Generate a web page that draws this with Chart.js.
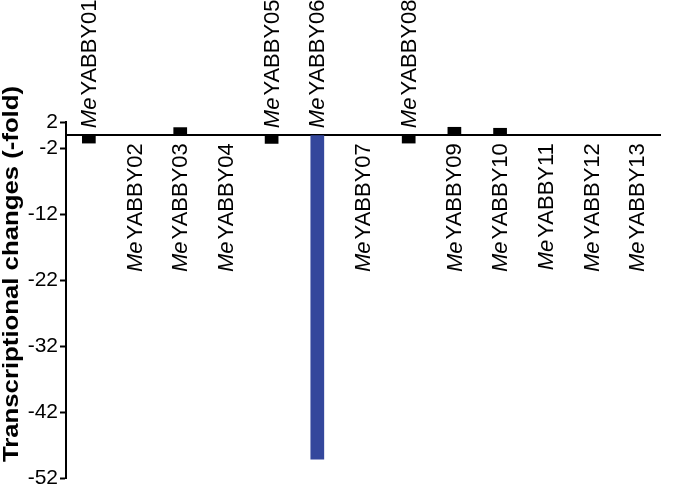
<!DOCTYPE html>
<html>
<head>
<meta charset="utf-8">
<script src="https://cdn.jsdelivr.net/npm/chart.js@4.4.1/dist/chart.umd.min.js"></script>
<style>
  html, body { margin: 0; padding: 0; background: #fff; }
  #wrap { width: 680px; height: 499px; }
</style>
</head>
<body>
<div id="wrap"><canvas id="yabbyChart"></canvas></div>
<script>
const CATEGORIES = ['MeYABBY01','MeYABBY02','MeYABBY03','MeYABBY04','MeYABBY05','MeYABBY06','MeYABBY07',
                    'MeYABBY08','MeYABBY09','MeYABBY10','MeYABBY11','MeYABBY12','MeYABBY13'];
const VALUES = [-1.25, 0, 1.2, 0, -1.3, -49.2, 0, -1.25, 1.25, 1.1, 0, 0, 0];
const BAR_COLORS = ['#000','#000','#000','#000','#000','#34479c','#000','#000','#000','#000','#000','#000','#000'];
const Y_TICKS = [2, -2, -12, -22, -32, -42, -52];
const Y_TITLE = 'Transcriptional changes (-fold)';

document.addEventListener('DOMContentLoaded', () => {

  const FONT = 'Arial, "Liberation Sans", sans-serif';
  const ITALIC = 'italic 22px ' + FONT;
  const NORMAL = '22px ' + FONT;

  Chart.defaults.font.family = FONT;
  Chart.defaults.font.size = 21;
  Chart.defaults.color = '#000';

  // gene names: "Me" in italics, rotated, above the axis for negative bars, below otherwise
  const geneLabels = {
    id: 'geneLabels',
    afterDraw(chart){
      const {ctx, scales: {x, y}} = chart;
      const zero = y.getPixelForValue(0);
      ctx.save();
      ctx.fillStyle = '#000';
      ctx.textBaseline = 'middle';
      ctx.textAlign = 'left';
      CATEGORIES.forEach((name,i) => {
        const prefix = name.slice(0,2), rest = name.slice(2);
        ctx.font = ITALIC; const w1 = ctx.measureText(prefix).width + 2;
        ctx.font = NORMAL; const w2 = ctx.measureText(rest).width;
        const px = x.getPixelForValue(i) + 1;
        ctx.save();
        if(VALUES[i] < 0) ctx.translate(px, zero - 7);
        else ctx.translate(px, zero + 8 + w1 + w2);
        ctx.rotate(-Math.PI/2);
        ctx.font = ITALIC; ctx.fillText(prefix, 0, 0);
        ctx.font = NORMAL; ctx.fillText(rest, w1, 0);
        ctx.restore();
      });

      // y axis title, stretched along its length like the original
      ctx.save();
      ctx.translate(12, 274);
      ctx.rotate(-Math.PI/2);
      ctx.scale(1.17, 1);
      ctx.textAlign = 'center';
      ctx.font = 'bold 22px ' + FONT;
      ctx.fillText(Y_TITLE, 0, 0);
      ctx.restore();
      ctx.restore();
    }
  };

  const ctx = document.getElementById('yabbyChart').getContext('2d');

  new Chart(ctx, {
    type: 'bar',
    data: {
      labels: CATEGORIES,
      datasets: [{
        data: VALUES,
        backgroundColor: BAR_COLORS,
        borderWidth: 0,
        barPercentage: 0.3,
        categoryPercentage: 1
      }]
    },
    options: {
      responsive: true,
      maintainAspectRatio: false,
      animation: false,
      layout: { padding: { left: 26, right: 20, top: 122, bottom: 21 } },
      plugins: { legend: { display: false }, tooltip: { enabled: false } },
      scales: {
        x: {
          position: { y: 0 },
          offset: true,
          grid: { display: false },
          border: { display: true, color: '#000', width: 2 },
          ticks: { display: false }
        },
        y: {
          min: -52,
          max: 2,
          afterBuildTicks: s => { s.ticks = Y_TICKS.map(v => ({ value: v })); },
          afterFit: s => { s.width = 40; },
          grid: { drawOnChartArea: false, tickLength: 6, tickWidth: 2, color: '#000' },
          border: { display: true, color: '#000', width: 2 },
          ticks: { color: '#000', padding: 2, font: { family: FONT, size: 21 } }
        }
      }
    },
    plugins: [geneLabels]
  });

});
</script>
</body>
</html>
